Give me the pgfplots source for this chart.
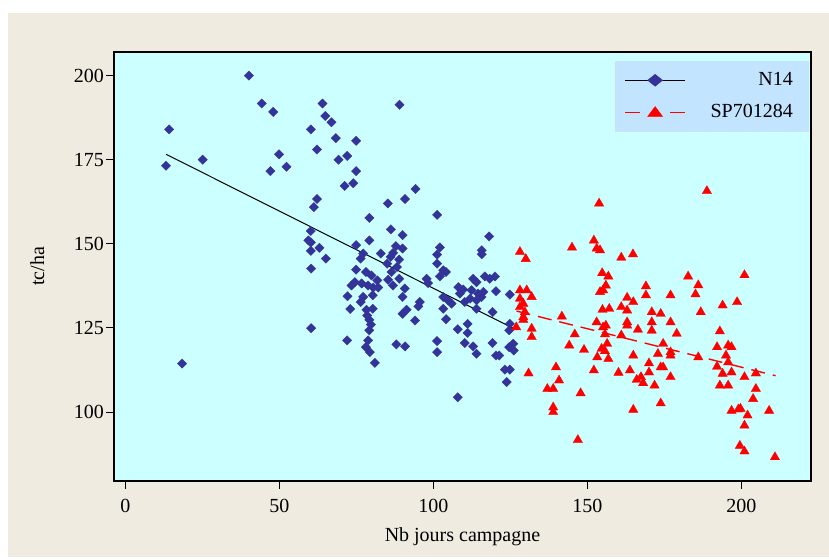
\documentclass[border=0pt]{standalone}
\usepackage{pgfplots}
\pgfplotsset{compat=1.18}
\usepackage{fontspec}
\setmainfont{Liberation Serif}
\definecolor{beige}{RGB}{239,235,224}
\definecolor{plotbg}{RGB}{204,255,255}
\definecolor{legbg}{RGB}{194,228,255}
\definecolor{bluem}{RGB}{51,51,153}
\pgfplotstableread{
x y
40.1 200
14.2 184
13.2 173.2
25.1 175
44.3 191.7
48 189.2
49.9 176.6
47.1 171.6
52.3 172.9
60.2 184
64 191.7
64.9 188
66.9 186.1
68.3 181.4
74.9 180.6
62.2 178
69.2 175
72 176.1
74.9 171.6
71.2 167.2
74 168
89 191.3
94.2 166.3
90.8 163.3
85.2 162
101.2 158.6
79.2 157.7
86.2 154.3
90 152.6
62.2 163.3
61.2 160.9
60.2 153.8
59.4 151
60.2 150.4
60.2 147.9
63 148.8
65.1 145.6
79.2 151
60.3 142.6
74.9 149.6
82.9 147.1
77.2 147.1
76.4 145.6
87.8 149.3
90 148.6
86.9 147.3
86.1 146.1
88.9 145.3
85 144.1
88.2 143.1
86.4 141.6
85.3 139.3
88.9 139.6
86.9 137.6
90.7 136.7
90 134.2
91.3 130.4
90 129.2
94 127.2
95.1 131.4
88 120.1
90.8 119.5
74.9 142.3
78.1 141.6
79.9 140.6
81.8 139.1
74.5 138.6
73.4 137.6
76.7 138.2
78.8 137.6
80.5 137
82.1 137
80.3 134.7
72.1 134.4
77.2 134.2
76.4 132.7
73 130.6
78.3 130.4
80.3 130.7
78.5 128.7
79.2 127.4
79.7 126
79.2 124.3
78.8 121.3
78.1 119.3
79.4 117.8
81 114.6
72 121.3
60.3 124.9
18.4 114.4
118.1 152.2
115.7 148.1
115.7 146.9
102.1 148.9
101.2 146.8
101.2 144.1
103.2 142.1
102.1 140.3
104.1 141.6
97.8 139.6
98.3 138.3
95.6 132.7
103.2 134.2
104.8 133.2
105.9 132.2
103.2 130.7
104.1 127.6
108.1 137.1
109.7 136.4
108.6 135.2
112.9 139.6
114 138.6
116.7 140.3
118.3 139.6
120 140.3
112.4 136.2
114.5 135.2
116.2 135.7
111.9 133.7
110.2 132.7
114 133.2
115.6 134.2
114 130.7
120.3 135.9
119.2 129.7
124.8 134.9
107.9 124.6
111.1 126.2
111.1 123.5
110.2 120.5
112.9 119.5
114 117.3
101.2 121.1
101.2 117.8
119.2 120.5
120.3 116.8
121.4 116.8
124.8 126.2
124.6 124.3
124.6 119.3
125.9 120.3
126.1 118.3
123.2 112.6
124.8 112.6
123.8 108.9
107.9 104.4
}\Nblue
\pgfplotstableread{
x y
188.8 165.7
153.8 162
145 148.9
152.1 151
153 148.6
154.1 148.1
161 145.9
164.8 146.9
128.1 147.6
130 145.5
154.8 141.3
156.8 140.3
156 137.6
154.1 135.7
155.1 136.2
169 137.4
169 134.7
177 134.7
182.7 140.3
186 137.7
185.1 135
201 140.7
128.1 136.2
130.3 136.2
131.9 134.2
129.2 132.2
128.1 131.2
129.7 129.7
129.2 128.2
131.9 124.8
131.9 122.3
126.9 125.2
128.1 133.7
129.2 127.4
141.7 128.4
145.9 123.1
144.1 119.8
148.9 118.5
153 126.7
156 125.7
155.7 123.1
156.4 120.3
154.6 118.8
155.7 118.1
153.2 116.3
156.8 115.8
152.1 112.4
161 131.2
162.9 134
164.9 132.7
162.9 130.2
162.9 126.7
162.9 125.7
161 122.8
166.4 124.5
170.9 129.7
173.8 129.2
170.9 126.7
170.9 124.2
177 126.7
179 123.3
174.6 120.3
172.9 117.3
177 117.8
177 116.8
164.9 116.8
170 114.5
170 111.8
173.8 113.3
174.6 113.3
163.8 112.4
160.1 111.7
166 109.6
167.4 110.4
168.1 108.6
171.8 107.9
177 110.4
164.9 100.7
173.8 102.6
186 116.3
186.8 129.7
193 124
192.1 119.3
195.7 119.8
196.8 119.3
195 116.8
195.7 114.8
192.1 113.5
193.9 111.4
196.8 111.8
193 107.9
195.7 107.9
193.9 131.7
198.6 132.7
201 110.4
204.7 111.5
204.7 106.9
203.8 103.9
196.8 100.4
199 100.8
199.7 101
202 99
201 96
209 100.4
199.5 90
201 88.3
210.9 86.6
146.9 91.7
138.9 101.4
138.9 100
137 106.9
138.9 106.9
140.8 109.4
139.8 113.3
130.9 111.5
147.8 105.6
154.9 130.4
157.1 130.7
155.1 125.2
}\SPred
\begin{document}
\fontsize{20bp}{24bp}\selectfont
\begin{tikzpicture}
\fill[white] (0,0) rectangle (829bp,560bp);
\fill[beige] (8bp,3bp) rectangle (829bp,547bp);
\begin{axis}[
  at={(114bp,79bp)}, anchor=south west,
  scale only axis, width=697bp, height=429bp,
  xmin=-3.7, xmax=222.6, ymin=79.5, ymax=207,
  axis background/.style={fill=plotbg},
  axis line style={black, line width=1.2bp},
  xtick={0,50,100,150,200}, ytick={100,125,150,175,200},
  xtick pos=bottom, ytick pos=left,
  tick align=outside, major tick length=8bp,
  tick style={black, line width=1bp},
  /pgf/number format/assume math mode=true,
  tick label style={font=\fontsize{20bp}{24bp}\selectfont},
  yticklabel style={inner xsep=2bp},
  xticklabel style={inner ysep=10bp},
  label style={font=\fontsize{20bp}{24bp}\selectfont},
  xlabel={Nb jours campagne},
  ylabel={tc/ha},
  xlabel style={at={(axis description cs:0.5,-0.1399)}, anchor=base},
  ylabel style={at={(axis description cs:-0.1004,0.5)}, anchor=base, rotate=0},
  every axis y label/.style={at={(axis description cs:-0.1004,0.5)}, anchor=base, rotate=90},
  legend style={at={(1,1)}, anchor=north east, xshift=-2bp, yshift=-9bp,
    fill=legbg, draw=none, inner xsep=9bp, inner ysep=9bp,
    row sep=12bp, column sep=19bp,
    font=\fontsize{20bp}{24bp}\selectfont},
  legend cell align=left,
]
\addplot[only marks, mark=square*, mark size=3.3bp,
  mark options={rotate=45, fill=bluem, draw=bluem, line width=0.3bp}, forget plot]
  table[x=x, y=y] {\Nblue};
\addplot[black, line width=1bp, forget plot] coordinates {(13.2,176.6) (126.1,124.8)};
\addplot[only marks, mark=triangle*, mark size=5.4bp,
  mark options={fill=red, draw=red, line width=0.3bp}, forget plot]
  table[x=x, y=y] {\SPred};
\addplot[red, line width=1.4bp, dash pattern=on 14bp off 8bp, forget plot]
  coordinates {(127,130) (211.1,110.8)};
\addlegendimage{legend image code/.code={
  \draw[black, line width=1bp] (0bp,0bp) -- (60bp,0bp);
  \fill[bluem] (30bp,6bp) -- (37.5bp,0bp) -- (30bp,-6bp) -- (22.5bp,0bp) -- cycle;}}
\addlegendentry{\makebox[91bp][l]{\makebox[86bp][r]{N14}}}
\addlegendimage{legend image code/.code={
  \draw[red, line width=1.4bp] (0bp,0bp) -- (15bp,0bp) (45bp,0bp) -- (60bp,0bp);
  \fill[red] (22.5bp,-4bp) -- (37.5bp,-4bp) -- (30bp,6bp) -- cycle;}}
\addlegendentry{\makebox[91bp][l]{\makebox[86bp][r]{SP701284}}}
\end{axis}
\pgfresetboundingbox
\path[use as bounding box] (0,0) rectangle (829bp,560bp);
\end{tikzpicture}
\end{document}
